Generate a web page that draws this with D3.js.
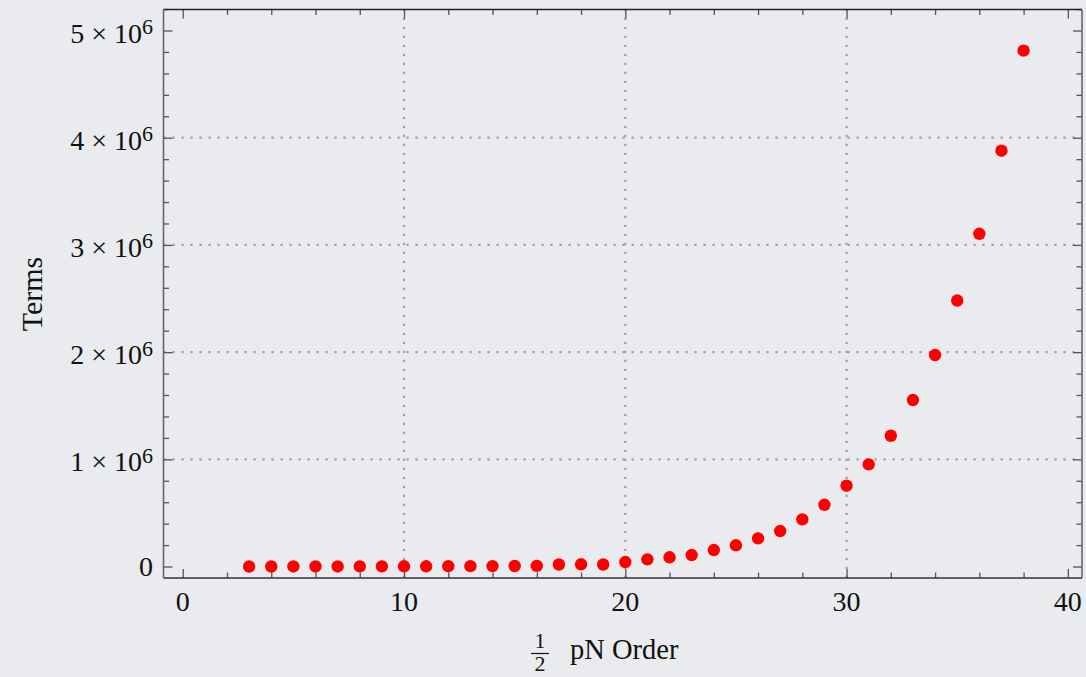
<!DOCTYPE html>
<html>
<head>
<meta charset="utf-8">
<script src="https://cdn.jsdelivr.net/npm/d3@7"></script>
<style>
  html, body { margin: 0; padding: 0; background: #e9ebee; }
  svg { display: block; }
  text { font-family: "Liberation Serif", "DejaVu Serif", serif; fill: #111; }
</style>
</head>
<body>
<svg id="chart" width="1086" height="677"></svg>
<script>
// Half post-Newtonian order and the number of terms at that order
const orders = [3, 4, 5, 6, 7, 8, 9, 10, 11, 12, 13, 14, 15, 16, 17, 18, 19, 20,
                21, 22, 23, 24, 25, 26, 27, 28, 29, 30, 31, 32, 33, 34, 35, 36, 37, 38];
const terms = [150, 300, 500, 700, 900, 1200, 1500, 2000, 2500, 3000, 3500, 4000, 5000, 6000,
               19000, 21000, 19000, 42000, 67000, 86000, 107000, 154000, 198000, 263000,
               331000, 440000, 576000, 754000, 953000, 1220000, 1553000, 1973000,
               2481000, 3104000, 3879000, 4812000];

const xMajor = [0, 10, 20, 30, 40];
const xMinor = d3.range(0, 41, 2);
const yMajor = [0, 1e6, 2e6, 3e6, 4e6, 5e6];
const yMinor = d3.range(0, 5.2e6 + 1, 2e5);
const xGrid = [10, 20, 30];
const yGrid = [1e6, 2e6, 3e6, 4e6];

const svg = d3.select("#chart");
const pL = 163.5, pR = 1082, pT = 9.5, pB = 578;

const x = d3.scaleLinear().domain([-0.87, 40.64]).range([pL, pR]);
const y = d3.scaleLinear().domain([-107000, 5196000]).range([pB, pT]);

// dotted grid
const grid = svg.append("g").attr("stroke", "#a0a0a0").attr("stroke-width", 2.2)
  .attr("stroke-dasharray", "2.2,6.8").attr("fill", "none");
grid.selectAll("line.gx").data(xGrid).join("line").attr("class", "gx")
  .attr("x1", d => x(d)).attr("x2", d => x(d)).attr("y1", pB).attr("y2", pT);
grid.selectAll("line.gy").data(yGrid).join("line").attr("class", "gy")
  .attr("x1", pL).attr("x2", pR).attr("y1", d => y(d)).attr("y2", d => y(d));

// frame ticks (all pointing inward)
function tickAxis(axisFn, scale, values, size, pos) {
  const g = svg.append("g").attr("transform", pos)
    .call(axisFn(scale).tickValues(values).tickSize(size).tickFormat(""));
  g.select(".domain").remove();
  g.selectAll(".tick line").attr("stroke", "#555").attr("stroke-width", 1.3);
  return g;
}
const majorLen = 9, minorLen = 5.5;
const xMin = xMinor.filter(v => !xMajor.includes(v));
const yMin = yMinor.filter(v => !yMajor.includes(v));
tickAxis(d3.axisBottom, x, xMajor, -majorLen, `translate(0,${pB})`);
tickAxis(d3.axisBottom, x, xMin, -minorLen, `translate(0,${pB})`);
tickAxis(d3.axisTop, x, xMajor, -majorLen, `translate(0,${pT})`);
tickAxis(d3.axisTop, x, xMin, -minorLen, `translate(0,${pT})`);
tickAxis(d3.axisLeft, y, yMajor, -majorLen, `translate(${pL},0)`);
tickAxis(d3.axisLeft, y, yMin, -minorLen, `translate(${pL},0)`);
tickAxis(d3.axisRight, y, yMajor, -majorLen, `translate(${pR},0)`);
tickAxis(d3.axisRight, y, yMin, -minorLen, `translate(${pR},0)`);

// frame edges
const frame = svg.append("g").attr("fill", "none");
frame.append("line").attr("x1", pL).attr("x2", pR).attr("y1", pT).attr("y2", pT)
  .attr("stroke", "#222").attr("stroke-width", 1.4);
frame.append("line").attr("x1", pL).attr("x2", pR).attr("y1", pB).attr("y2", pB)
  .attr("stroke", "#333").attr("stroke-width", 1.6);
frame.append("line").attr("x1", pL).attr("x2", pL).attr("y1", pT).attr("y2", pB)
  .attr("stroke", "#666").attr("stroke-width", 1.6);
frame.append("line").attr("x1", pR).attr("x2", pR).attr("y1", pT).attr("y2", pB)
  .attr("stroke", "#666").attr("stroke-width", 1.6);

// x tick labels
svg.append("g").selectAll("text").data(xMajor).join("text")
  .attr("x", d => x(d)).attr("y", pB + 33)
  .attr("text-anchor", "middle").attr("font-size", 28)
  .text(d => d);

// y tick labels: a × 10^6
const yl = svg.append("g").selectAll("text").data(yMajor).join("text")
  .attr("x", 153).attr("y", d => y(d) + (d === 0 ? 9 : 12))
  .attr("text-anchor", "end").attr("font-size", 28);
yl.each(function (d) {
  const t = d3.select(this);
  if (d === 0) { t.text("0"); return; }
  t.append("tspan").text(`${d / 1e6} × 10`);
  t.append("tspan").attr("font-size", 22).attr("dy", -8.5).text("6");
});

// data points
svg.append("g").selectAll("circle").data(orders).join("circle")
  .attr("cx", d => x(d)).attr("cy", (d, i) => y(terms[i])).attr("r", 6.2)
  .attr("fill", "#ff0000");

// axis titles
svg.append("text").attr("transform", "translate(42,294) rotate(-90)")
  .attr("text-anchor", "middle").attr("font-size", 30).text("Terms");

const xt = svg.append("g");
xt.append("text").attr("x", 540).attr("y", 648).attr("text-anchor", "middle")
  .attr("font-size", 22).text("1");
xt.append("line").attr("x1", 531).attr("x2", 549).attr("y1", 653.5).attr("y2", 653.5)
  .attr("stroke", "#111").attr("stroke-width", 1.2);
xt.append("text").attr("x", 540).attr("y", 671).attr("text-anchor", "middle")
  .attr("font-size", 22).text("2");
xt.append("text").attr("x", 570).attr("y", 659).attr("font-size", 28.5).text("pN Order");
</script>
</body>
</html>
